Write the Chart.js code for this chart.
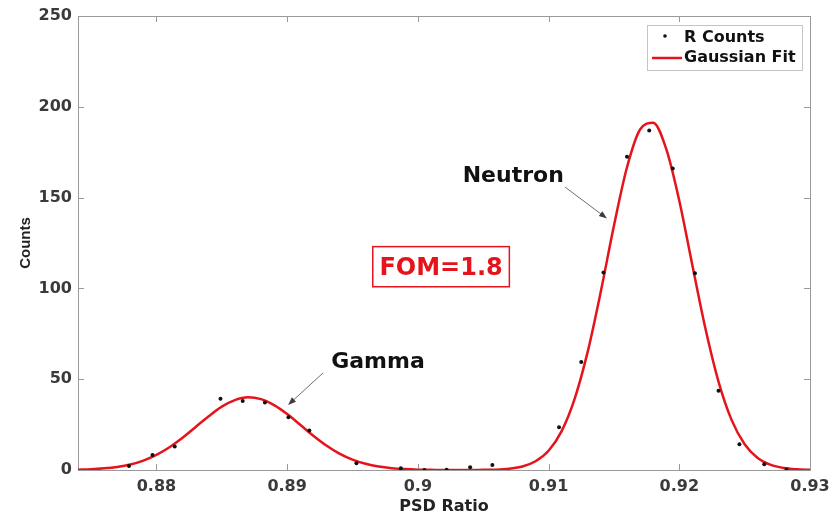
<!DOCTYPE html>
<html>
<head>
<meta charset="utf-8">
<script src="https://cdn.jsdelivr.net/npm/chart.js@4.4.1/dist/chart.umd.min.js"></script>
<style>
  html, body { margin: 0; padding: 0; background: #fff; }
  #wrap { width: 831px; height: 519px; }
</style>
</head>
<body>
<div id="wrap"><canvas id="psdChart" width="831" height="519"></canvas></div>
<script>
// measured bins (black dots)
const countX = [0.8779, 0.8797, 0.8814, 0.8849, 0.8866, 0.8883, 0.8901, 0.8917, 0.8953, 0.8987,
  0.9005, 0.9022, 0.9040, 0.9057, 0.9108, 0.9125, 0.9142, 0.9160, 0.9177, 0.9195,
  0.9212, 0.9230, 0.9246, 0.9265, 0.9282];
const countY = [2.2, 8.3, 12.9, 39.3, 38.0, 37.2, 29.1, 21.8, 3.7, 1.0,
  0.0, 0.2, 1.5, 2.8, 23.6, 59.5, 108.8, 172.5, 187.0, 166.0,
  108.4, 43.7, 14.2, 3.1, 0.3];

// gaussian fit curve
const fitX = [0.874, 0.875, 0.876, 0.877, 0.878, 0.879, 0.880, 0.881, 0.882, 0.883,
  0.884, 0.885, 0.886, 0.887, 0.888, 0.889, 0.890, 0.891, 0.892, 0.893,
  0.894, 0.895, 0.896, 0.897, 0.898, 0.899, 0.900, 0.901, 0.902, 0.903,
  0.904, 0.905, 0.906, 0.907, 0.908, 0.909, 0.910, 0.911, 0.912, 0.913,
  0.914, 0.915, 0.916, 0.917, 0.918, 0.919, 0.920, 0.921, 0.922, 0.923,
  0.924, 0.925, 0.926, 0.927, 0.928, 0.929, 0.930];
const fitY = [0.2, 0.4, 0.9, 1.7, 3.0, 5.2, 8.3, 12.5, 17.7, 23.7,
  29.6, 34.9, 38.5, 40.0, 39.0, 35.7, 30.8, 24.9, 18.9, 13.5,
  9.0, 5.7, 3.4, 1.9, 1.0, 0.5, 0.2, 0.1, 0.0, 0.0,
  0.0, 0.1, 0.2, 0.7, 1.9, 4.8, 10.6, 21.4, 39.3, 65.3,
  98.4, 134.5, 166.7, 187.5, 191.2, 176.8, 148.3, 112.8, 77.9, 48.7,
  27.6, 14.2, 6.6, 2.8, 1.1, 0.4, 0.1];

const xTicks = [0.88, 0.89, 0.9, 0.91, 0.92, 0.93];
const yTicks = [0, 50, 100, 150, 200, 250];

const seriesNames = ['R Counts', 'Gaussian Fit'];

const RED = '#e5141c';
const AXIS = '#9a9a9a';
const FONT = "'DejaVu Sans', sans-serif";

function drawArrow(ctx, x1, y1, x2, y2) {
  const ang = Math.atan2(y2 - y1, x2 - x1);
  ctx.save();
  ctx.strokeStyle = '#6e6e6e';
  ctx.fillStyle = '#3c3c3c';
  ctx.lineWidth = 1;
  ctx.beginPath();
  ctx.moveTo(x1, y1);
  ctx.lineTo(x2 - 6 * Math.cos(ang), y2 - 6 * Math.sin(ang));
  ctx.stroke();
  ctx.beginPath();
  ctx.moveTo(x2, y2);
  ctx.lineTo(x2 - 8 * Math.cos(ang) + 3 * Math.sin(ang), y2 - 8 * Math.sin(ang) - 3 * Math.cos(ang));
  ctx.lineTo(x2 - 8 * Math.cos(ang) - 3 * Math.sin(ang), y2 - 8 * Math.sin(ang) + 3 * Math.cos(ang));
  ctx.closePath();
  ctx.fill();
  ctx.restore();
}

// matlab style box, inward ticks, legend and text annotations
const matlabFrame = {
  id: 'matlabFrame',
  beforeDatasetsDraw(chart) {
    const {ctx, chartArea: a, scales: {x, y}} = chart;
    ctx.save();
    ctx.strokeStyle = AXIS;
    ctx.lineWidth = 1;
    ctx.strokeRect(a.left + 0.5, a.top + 0.5, a.right - a.left, a.bottom - a.top);
    ctx.beginPath();
    xTicks.forEach(v => {
      const px = Math.round(x.getPixelForValue(v)) + 0.5;
      ctx.moveTo(px, a.bottom); ctx.lineTo(px, a.bottom - 6);
      ctx.moveTo(px, a.top); ctx.lineTo(px, a.top + 6);
    });
    yTicks.forEach(v => {
      const py = Math.round(y.getPixelForValue(v)) + 0.5;
      ctx.moveTo(a.left, py); ctx.lineTo(a.left + 6, py);
      ctx.moveTo(a.right, py); ctx.lineTo(a.right - 6, py);
    });
    ctx.stroke();
    ctx.restore();
  },
  afterDatasetsDraw(chart) {
    const {ctx, chartArea: a, scales: {x, y}} = chart;
    const px = v => x.getPixelForValue(v);
    const py = v => y.getPixelForValue(v);
    ctx.save();
    ctx.textBaseline = 'alphabetic';
    ctx.textAlign = 'center';

    // peak labels
    ctx.fillStyle = '#111';
    ctx.font = 'bold 22px ' + FONT;
    ctx.fillText('Neutron', px(0.9073), py(158.6));
    drawArrow(ctx, px(0.91126), py(155.8), px(0.91447), py(138.5));
    ctx.fillStyle = '#111';
    ctx.font = 'bold 22px ' + FONT;
    ctx.fillText('Gamma', px(0.89695), py(56.2));
    drawArrow(ctx, px(0.89274), py(53.4), px(0.89007), py(35.8));

    // FOM box
    ctx.strokeStyle = RED;
    ctx.lineWidth = 1.5;
    const bx1 = px(0.89655), bx2 = px(0.90700), by1 = py(123), by2 = py(100.9);
    ctx.fillStyle = '#fff';
    ctx.fillRect(bx1, by1, bx2 - bx1, by2 - by1);
    ctx.strokeRect(bx1, by1, bx2 - bx1, by2 - by1);
    ctx.fillStyle = RED;
    ctx.font = 'bold 24px ' + FONT;
    ctx.fillText('FOM=1.8', (bx1 + bx2) / 2, py(107.4));

    // legend
    const lx = a.right - 163, ly = a.top + 9, lw = 155, lh = 45;
    ctx.fillStyle = '#fff';
    ctx.fillRect(lx, ly, lw, lh);
    ctx.strokeStyle = '#c4c4c4';
    ctx.lineWidth = 1;
    ctx.strokeRect(lx + 0.5, ly + 0.5, lw, lh);
    ctx.fillStyle = '#111';
    ctx.beginPath();
    ctx.arc(lx + 18, ly + 11, 1.8, 0, Math.PI * 2);
    ctx.fill();
    ctx.strokeStyle = RED;
    ctx.lineWidth = 2.5;
    ctx.beginPath();
    ctx.moveTo(lx + 5, ly + 33);
    ctx.lineTo(lx + 35, ly + 33);
    ctx.stroke();
    ctx.textAlign = 'left';
    ctx.textBaseline = 'middle';
    ctx.fillStyle = '#111';
    ctx.font = 'bold 16px ' + FONT;
    ctx.fillText(seriesNames[0], lx + 37, ly + 13);
    ctx.fillText(seriesNames[1], lx + 37, ly + 33);
    ctx.restore();
  }
};

document.addEventListener('DOMContentLoaded', function() {
  const ctx = document.getElementById('psdChart');

  new Chart(ctx, {
    type: 'scatter',
    data: {
      datasets: [
        {
          label: seriesNames[0],
          data: countX.map((v, i) => ({ x: v, y: countY[i] })),
          showLine: false,
          pointRadius: 2,
          pointBackgroundColor: '#111',
          pointBorderWidth: 0,
          order: 0
        },
        {
          label: seriesNames[1],
          data: fitX.map((v, i) => ({ x: v, y: fitY[i] })),
          showLine: true,
          borderColor: RED,
          borderWidth: 2.5,
          pointRadius: 0,
          cubicInterpolationMode: 'monotone',
          order: 1
        }
      ]
    },
    options: {
      responsive: false,
      animation: false,
      layout: { padding: { left: 0, top: 16, right: 21, bottom: 0 } },
      plugins: {
        legend: { display: false },
        tooltip: { enabled: false }
      },
      scales: {
        x: {
          type: 'linear',
          min: 0.874,
          max: 0.93,
          afterBuildTicks: s => { s.ticks = xTicks.map(v => ({ value: v })); },
          afterFit: s => { s.height = 49; s.paddingLeft = 0; s.paddingRight = 0; },
          grid: { display: false, drawTicks: false },
          border: { display: false },
          ticks: {
            padding: 7,
            color: '#3a3a3a',
            font: { family: FONT, size: 16, weight: 'bold' },
            maxRotation: 0,
            callback: v => String(v)
          },
          title: {
            display: true,
            text: 'PSD Ratio',
            color: '#222',
            font: { family: FONT, size: 16, weight: 'bold' },
            padding: { top: 0, bottom: 3 }
          }
        },
        y: {
          min: 0,
          max: 250,
          afterBuildTicks: s => { s.ticks = yTicks.map(v => ({ value: v })); },
          afterFit: s => { s.width = 78; s.paddingTop = 0; s.paddingBottom = 0; },
          grid: { display: false, drawTicks: false },
          border: { display: false },
          ticks: {
            padding: 6,
            color: '#3a3a3a',
            font: { family: FONT, size: 16, weight: 'bold' }
          },
          title: {
            display: true,
            text: 'Counts',
            color: '#222',
            font: { family: "'Liberation Sans', Arial, sans-serif", size: 15, weight: 'bold' },
            padding: { top: 17, bottom: 0 }
          }
        }
      }
    },
    plugins: [matlabFrame]
  });
});
</script>
</body>
</html>
